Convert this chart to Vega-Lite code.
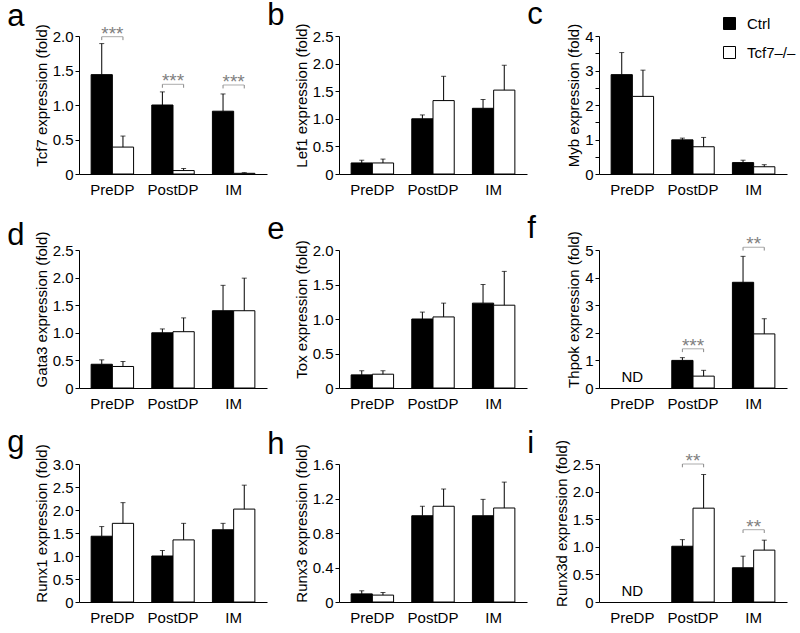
{
"$schema": "https://vega.github.io/schema/vega-lite/v6.json",
"padding": {"left": 7, "top": -1, "right": 0, "bottom": 0},
"datasets": {
"bars": [
{"p":"a","g":"PreDP","c":"Ctrl","m":1.44,"u":1.89},{"p":"a","g":"PreDP","c":"KO","m":0.39,"u":0.55},
{"p":"a","g":"PostDP","c":"Ctrl","m":1.0,"u":1.19},{"p":"a","g":"PostDP","c":"KO","m":0.05,"u":0.08},
{"p":"a","g":"IM","c":"Ctrl","m":0.91,"u":1.16},{"p":"a","g":"IM","c":"KO","m":0.01,"u":0.02},
{"p":"b","g":"PreDP","c":"Ctrl","m":0.2,"u":0.25},{"p":"b","g":"PreDP","c":"KO","m":0.2,"u":0.27},
{"p":"b","g":"PostDP","c":"Ctrl","m":1.0,"u":1.07},{"p":"b","g":"PostDP","c":"KO","m":1.33,"u":1.77},
{"p":"b","g":"IM","c":"Ctrl","m":1.19,"u":1.35},{"p":"b","g":"IM","c":"KO","m":1.52,"u":1.97},
{"p":"c","g":"PreDP","c":"Ctrl","m":2.88,"u":3.52},{"p":"c","g":"PreDP","c":"KO","m":2.25,"u":3.01},
{"p":"c","g":"PostDP","c":"Ctrl","m":0.99,"u":1.04},{"p":"c","g":"PostDP","c":"KO","m":0.79,"u":1.06},
{"p":"c","g":"IM","c":"Ctrl","m":0.33,"u":0.4},{"p":"c","g":"IM","c":"KO","m":0.21,"u":0.27},
{"p":"d","g":"PreDP","c":"Ctrl","m":0.43,"u":0.51},{"p":"d","g":"PreDP","c":"KO","m":0.39,"u":0.48},
{"p":"d","g":"PostDP","c":"Ctrl","m":1.0,"u":1.07},{"p":"d","g":"PostDP","c":"KO","m":1.02,"u":1.27},
{"p":"d","g":"IM","c":"Ctrl","m":1.4,"u":1.86},{"p":"d","g":"IM","c":"KO","m":1.4,"u":1.99},
{"p":"e","g":"PreDP","c":"Ctrl","m":0.19,"u":0.25},{"p":"e","g":"PreDP","c":"KO","m":0.2,"u":0.25},
{"p":"e","g":"PostDP","c":"Ctrl","m":1.0,"u":1.1},{"p":"e","g":"PostDP","c":"KO","m":1.03,"u":1.23},
{"p":"e","g":"IM","c":"Ctrl","m":1.23,"u":1.5},{"p":"e","g":"IM","c":"KO","m":1.2,"u":1.69},
{"p":"f","g":"PostDP","c":"Ctrl","m":1.0,"u":1.1},{"p":"f","g":"PostDP","c":"KO","m":0.43,"u":0.64},
{"p":"f","g":"IM","c":"Ctrl","m":3.83,"u":4.77},{"p":"f","g":"IM","c":"KO","m":1.96,"u":2.51},
{"p":"g","g":"PreDP","c":"Ctrl","m":1.43,"u":1.64},{"p":"g","g":"PreDP","c":"KO","m":1.71,"u":2.16},
{"p":"g","g":"PostDP","c":"Ctrl","m":1.0,"u":1.12},{"p":"g","g":"PostDP","c":"KO","m":1.35,"u":1.71},
{"p":"g","g":"IM","c":"Ctrl","m":1.57,"u":1.71},{"p":"g","g":"IM","c":"KO","m":2.02,"u":2.54},
{"p":"h","g":"PreDP","c":"Ctrl","m":0.094,"u":0.13},{"p":"h","g":"PreDP","c":"KO","m":0.08,"u":0.11},
{"p":"h","g":"PostDP","c":"Ctrl","m":1.0,"u":1.11},{"p":"h","g":"PostDP","c":"KO","m":1.11,"u":1.31},
{"p":"h","g":"IM","c":"Ctrl","m":1.0,"u":1.19},{"p":"h","g":"IM","c":"KO","m":1.09,"u":1.39},
{"p":"i","g":"PostDP","c":"Ctrl","m":1.01,"u":1.13},{"p":"i","g":"PostDP","c":"KO","m":1.7,"u":2.31},
{"p":"i","g":"IM","c":"Ctrl","m":0.62,"u":0.83},{"p":"i","g":"IM","c":"KO","m":0.94,"u":1.12}
],
"sig": [
{"p":"a","g":"PreDP","level":1.99,"stars":"***"},
{"p":"a","g":"PostDP","level":1.3,"stars":"***"},
{"p":"a","g":"IM","level":1.29,"stars":"***"},
{"p":"f","g":"PostDP","level":1.42,"stars":"***"},
{"p":"f","g":"IM","level":5.1,"stars":"**"},
{"p":"i","g":"PostDP","level":2.5,"stars":"**"},
{"p":"i","g":"IM","level":1.31,"stars":"**"}
],
"nd": [
{"p":"f","g":"PreDP","label":"ND"},
{"p":"i","g":"PreDP","label":"ND"}
],
"letters": [
{"p":"a","t":"a"},{"p":"b","t":"b"},{"p":"c","t":"c"},
{"p":"d","t":"d"},{"p":"e","t":"e"},{"p":"f","t":"f"},
{"p":"g","t":"g"},{"p":"h","t":"h"},{"p":"i","t":"i"}
]
},
"config": {
"font": "Liberation Sans",
"view": {"stroke": null},
"axis": {"grid": false, "domainColor": "black", "tickColor": "black", "labelColor": "black", "titleColor": "black", "labelFontSize": 15, "titleFontSize": 15, "titleFontWeight": "normal", "domainWidth": 1, "tickWidth": 1, "labelOverlap": false},
"axisX": {"ticks": false, "labelPadding": 8, "labelAngle": 0, "title": null},
"axisY": {"tickSize": 4, "labelPadding": 2, "titlePadding": 3, "titleY": 59},
"text": {"font": "Liberation Sans"},
"tick": {"thickness": 1},
"bar": {"stroke": "black", "strokeWidth": 1}
},
"resolve": {"scale": {"color": "independent"}, "legend": {"color": "independent"}},
"bounds": "flush",
"columns": 3,
"spacing": {"row": 76, "column": 72},
"concat": [
{
"width": 188, "height": 138,
"encoding": {
"x": {"field": "g", "type": "nominal", "scale": {"domain": ["PreDP","PostDP","IM"], "paddingInner": 0.3, "paddingOuter": 0.2}},
"xOffset": {"field": "c", "type": "nominal", "scale": {"domain": ["Ctrl","KO"], "paddingInner": 0, "paddingOuter": 0}}
},
"layer": [
{"data": {"name": "bars"}, "transform": [{"filter": "datum.p == 'a'"}], "mark": {"type": "bar"},
"encoding": {"y": {"field": "m", "type": "quantitative", "scale": {"domain": [0, 2], "nice": false}, "axis": {"title": "Tcf7 expression (fold)", "tickCount": 20, "values": [0, 0.5, 1, 1.5, 2], "labelExpr": "datum.value == 0 ? '0' : format(datum.value, '.1f')"}},
"color": {"field": "c", "type": "nominal", "scale": {"domain": ["Ctrl","KO"], "range": ["black","white"]}, "legend": null}}},
{"data": {"name": "bars"}, "transform": [{"filter": "datum.p == 'a'"}], "mark": {"type": "rule", "color": "black"},
"encoding": {"y": {"field": "m", "type": "quantitative"}, "y2": {"field": "u"}}},
{"data": {"name": "bars"}, "transform": [{"filter": "datum.p == 'a'"}], "mark": {"type": "tick", "color": "black", "size": 5},
"encoding": {"y": {"field": "u", "type": "quantitative"}}},
{"data": {"name": "sig"}, "transform": [{"filter": "datum.p == 'a'"}], "mark": {"type": "tick", "color": "#888888", "size": 21},
"encoding": {"xOffset": null, "y": {"field": "level", "type": "quantitative"}}},
{"data": {"name": "sig"}, "transform": [{"filter": "datum.p == 'a'"}, {"calculate": "['Ctrl','KO']", "as": "c"}, {"flatten": ["c"]}, {"calculate": "datum.level - 0.05", "as": "lo"}], "mark": {"type": "rule", "color": "#888888"},
"encoding": {"y": {"field": "level", "type": "quantitative"}, "y2": {"field": "lo"}}},
{"data": {"name": "sig"}, "transform": [{"filter": "datum.p == 'a'"}], "mark": {"type": "text", "color": "#808080", "fontSize": 19, "baseline": "alphabetic", "dy": 3},
"encoding": {"xOffset": null, "y": {"field": "level", "type": "quantitative"}, "text": {"field": "stars"}}},
{"data": {"name": "letters"}, "transform": [{"filter": "datum.p == 'a'"}], "mark": {"type": "text", "color": "black", "fontSize": 31, "align": "left", "baseline": "alphabetic", "dx": -105, "dy": -10},
"encoding": {"xOffset": null, "x": {"datum": "PreDP"}, "y": {"datum": 2}, "text": {"field": "t"}}}
]
},
{
"width": 188, "height": 138,
"encoding": {
"x": {"field": "g", "type": "nominal", "scale": {"domain": ["PreDP","PostDP","IM"], "paddingInner": 0.3, "paddingOuter": 0.2}},
"xOffset": {"field": "c", "type": "nominal", "scale": {"domain": ["Ctrl","KO"], "paddingInner": 0, "paddingOuter": 0}}
},
"layer": [
{"data": {"name": "bars"}, "transform": [{"filter": "datum.p == 'b'"}], "mark": {"type": "bar"},
"encoding": {"y": {"field": "m", "type": "quantitative", "scale": {"domain": [0, 2.5], "nice": false}, "axis": {"title": "Lef1 expression (fold)", "tickCount": 20, "values": [0, 0.5, 1, 1.5, 2, 2.5], "labelExpr": "datum.value == 0 ? '0' : format(datum.value, '.1f')"}},
"color": {"field": "c", "type": "nominal", "scale": {"domain": ["Ctrl","KO"], "range": ["black","white"]}, "legend": null}}},
{"data": {"name": "bars"}, "transform": [{"filter": "datum.p == 'b'"}], "mark": {"type": "rule", "color": "black"},
"encoding": {"y": {"field": "m", "type": "quantitative"}, "y2": {"field": "u"}}},
{"data": {"name": "bars"}, "transform": [{"filter": "datum.p == 'b'"}], "mark": {"type": "tick", "color": "black", "size": 5},
"encoding": {"y": {"field": "u", "type": "quantitative"}}},
{"data": {"name": "letters"}, "transform": [{"filter": "datum.p == 'b'"}], "mark": {"type": "text", "color": "black", "fontSize": 31, "align": "left", "baseline": "alphabetic", "dx": -105, "dy": -11},
"encoding": {"xOffset": null, "x": {"datum": "PreDP"}, "y": {"datum": 2.5}, "text": {"field": "t"}}}
]
},
{
"width": 188, "height": 138,
"encoding": {
"x": {"field": "g", "type": "nominal", "scale": {"domain": ["PreDP","PostDP","IM"], "paddingInner": 0.3, "paddingOuter": 0.2}},
"xOffset": {"field": "c", "type": "nominal", "scale": {"domain": ["Ctrl","KO"], "paddingInner": 0, "paddingOuter": 0}}
},
"layer": [
{"data": {"name": "bars"}, "transform": [{"filter": "datum.p == 'c'"}], "mark": {"type": "bar"},
"encoding": {"y": {"field": "m", "type": "quantitative", "scale": {"domain": [0, 4], "nice": false}, "axis": {"title": "Myb expression (fold)", "tickCount": 20, "values": [0, 0.5, 1, 1.5, 2, 2.5, 3, 3.5, 4], "labelExpr": "datum.value % 1 == 0 ? format(datum.value, 'd') : ''"}},
"color": {"field": "c", "type": "nominal", "scale": {"domain": ["Ctrl","KO"], "range": ["black","white"]},
"legend": {"orient": "none", "legendX": 123, "legendY": -20, "title": null, "symbolType": "square", "symbolSize": 144, "symbolStrokeColor": "black", "symbolStrokeWidth": 1, "labelFontSize": 15, "labelOffset": 10, "rowPadding": 12, "labelColor": "black", "labelExpr": "datum.value == 'KO' ? 'Tcf7–/–' : 'Ctrl'"}}}},
{"data": {"name": "bars"}, "transform": [{"filter": "datum.p == 'c'"}], "mark": {"type": "rule", "color": "black"},
"encoding": {"y": {"field": "m", "type": "quantitative"}, "y2": {"field": "u"}}},
{"data": {"name": "bars"}, "transform": [{"filter": "datum.p == 'c'"}], "mark": {"type": "tick", "color": "black", "size": 5},
"encoding": {"y": {"field": "u", "type": "quantitative"}}},
{"data": {"name": "letters"}, "transform": [{"filter": "datum.p == 'c'"}], "mark": {"type": "text", "color": "black", "fontSize": 31, "align": "left", "baseline": "alphabetic", "dx": -105, "dy": -12},
"encoding": {"xOffset": null, "x": {"datum": "PreDP"}, "y": {"datum": 4}, "text": {"field": "t"}}}
]
},
{
"width": 188, "height": 138,
"encoding": {
"x": {"field": "g", "type": "nominal", "scale": {"domain": ["PreDP","PostDP","IM"], "paddingInner": 0.3, "paddingOuter": 0.2}},
"xOffset": {"field": "c", "type": "nominal", "scale": {"domain": ["Ctrl","KO"], "paddingInner": 0, "paddingOuter": 0}}
},
"layer": [
{"data": {"name": "bars"}, "transform": [{"filter": "datum.p == 'd'"}], "mark": {"type": "bar"},
"encoding": {"y": {"field": "m", "type": "quantitative", "scale": {"domain": [0, 2.5], "nice": false}, "axis": {"title": "Gata3 expression (fold)", "tickCount": 20, "values": [0, 0.5, 1, 1.5, 2, 2.5], "labelExpr": "datum.value == 0 ? '0' : format(datum.value, '.1f')"}},
"color": {"field": "c", "type": "nominal", "scale": {"domain": ["Ctrl","KO"], "range": ["black","white"]}, "legend": null}}},
{"data": {"name": "bars"}, "transform": [{"filter": "datum.p == 'd'"}], "mark": {"type": "rule", "color": "black"},
"encoding": {"y": {"field": "m", "type": "quantitative"}, "y2": {"field": "u"}}},
{"data": {"name": "bars"}, "transform": [{"filter": "datum.p == 'd'"}], "mark": {"type": "tick", "color": "black", "size": 5},
"encoding": {"y": {"field": "u", "type": "quantitative"}}},
{"data": {"name": "letters"}, "transform": [{"filter": "datum.p == 'd'"}], "mark": {"type": "text", "color": "black", "fontSize": 31, "align": "left", "baseline": "alphabetic", "dx": -105, "dy": -5},
"encoding": {"xOffset": null, "x": {"datum": "PreDP"}, "y": {"datum": 2.5}, "text": {"field": "t"}}}
]
},
{
"width": 188, "height": 138,
"encoding": {
"x": {"field": "g", "type": "nominal", "scale": {"domain": ["PreDP","PostDP","IM"], "paddingInner": 0.3, "paddingOuter": 0.2}},
"xOffset": {"field": "c", "type": "nominal", "scale": {"domain": ["Ctrl","KO"], "paddingInner": 0, "paddingOuter": 0}}
},
"layer": [
{"data": {"name": "bars"}, "transform": [{"filter": "datum.p == 'e'"}], "mark": {"type": "bar"},
"encoding": {"y": {"field": "m", "type": "quantitative", "scale": {"domain": [0, 2], "nice": false}, "axis": {"title": "Tox expression (fold)", "tickCount": 20, "values": [0, 0.5, 1, 1.5, 2], "labelExpr": "datum.value == 0 ? '0' : format(datum.value, '.1f')"}},
"color": {"field": "c", "type": "nominal", "scale": {"domain": ["Ctrl","KO"], "range": ["black","white"]}, "legend": null}}},
{"data": {"name": "bars"}, "transform": [{"filter": "datum.p == 'e'"}], "mark": {"type": "rule", "color": "black"},
"encoding": {"y": {"field": "m", "type": "quantitative"}, "y2": {"field": "u"}}},
{"data": {"name": "bars"}, "transform": [{"filter": "datum.p == 'e'"}], "mark": {"type": "tick", "color": "black", "size": 5},
"encoding": {"y": {"field": "u", "type": "quantitative"}}},
{"data": {"name": "letters"}, "transform": [{"filter": "datum.p == 'e'"}], "mark": {"type": "text", "color": "black", "fontSize": 31, "align": "left", "baseline": "alphabetic", "dx": -105, "dy": -11},
"encoding": {"xOffset": null, "x": {"datum": "PreDP"}, "y": {"datum": 2}, "text": {"field": "t"}}}
]
},
{
"width": 188, "height": 138,
"encoding": {
"x": {"field": "g", "type": "nominal", "scale": {"domain": ["PreDP","PostDP","IM"], "paddingInner": 0.3, "paddingOuter": 0.2}},
"xOffset": {"field": "c", "type": "nominal", "scale": {"domain": ["Ctrl","KO"], "paddingInner": 0, "paddingOuter": 0}}
},
"layer": [
{"data": {"name": "bars"}, "transform": [{"filter": "datum.p == 'f'"}], "mark": {"type": "bar"},
"encoding": {"y": {"field": "m", "type": "quantitative", "scale": {"domain": [0, 5], "nice": false}, "axis": {"title": "Thpok expression (fold)", "tickCount": 20, "values": [0, 1, 2, 3, 4, 5], "format": "d"}},
"color": {"field": "c", "type": "nominal", "scale": {"domain": ["Ctrl","KO"], "range": ["black","white"]}, "legend": null}}},
{"data": {"name": "bars"}, "transform": [{"filter": "datum.p == 'f'"}], "mark": {"type": "rule", "color": "black"},
"encoding": {"y": {"field": "m", "type": "quantitative"}, "y2": {"field": "u"}}},
{"data": {"name": "bars"}, "transform": [{"filter": "datum.p == 'f'"}], "mark": {"type": "tick", "color": "black", "size": 5},
"encoding": {"y": {"field": "u", "type": "quantitative"}}},
{"data": {"name": "sig"}, "transform": [{"filter": "datum.p == 'f'"}], "mark": {"type": "tick", "color": "#888888", "size": 21},
"encoding": {"xOffset": null, "y": {"field": "level", "type": "quantitative"}}},
{"data": {"name": "sig"}, "transform": [{"filter": "datum.p == 'f'"}, {"calculate": "['Ctrl','KO']", "as": "c"}, {"flatten": ["c"]}, {"calculate": "datum.level - 0.12", "as": "lo"}], "mark": {"type": "rule", "color": "#888888"},
"encoding": {"y": {"field": "level", "type": "quantitative"}, "y2": {"field": "lo"}}},
{"data": {"name": "sig"}, "transform": [{"filter": "datum.p == 'f'"}], "mark": {"type": "text", "color": "#808080", "fontSize": 19, "baseline": "alphabetic", "dy": 3},
"encoding": {"xOffset": null, "y": {"field": "level", "type": "quantitative"}, "text": {"field": "stars"}}},
{"data": {"name": "nd"}, "transform": [{"filter": "datum.p == 'f'"}], "mark": {"type": "text", "color": "black", "fontSize": 15, "baseline": "middle", "dy": -11},
"encoding": {"xOffset": null, "y": {"datum": 0}, "text": {"field": "label"}}},
{"data": {"name": "letters"}, "transform": [{"filter": "datum.p == 'f'"}], "mark": {"type": "text", "color": "black", "fontSize": 31, "align": "left", "baseline": "alphabetic", "dx": -105, "dy": -12},
"encoding": {"xOffset": null, "x": {"datum": "PreDP"}, "y": {"datum": 5}, "text": {"field": "t"}}}
]
},
{
"width": 188, "height": 138,
"encoding": {
"x": {"field": "g", "type": "nominal", "scale": {"domain": ["PreDP","PostDP","IM"], "paddingInner": 0.3, "paddingOuter": 0.2}},
"xOffset": {"field": "c", "type": "nominal", "scale": {"domain": ["Ctrl","KO"], "paddingInner": 0, "paddingOuter": 0}}
},
"layer": [
{"data": {"name": "bars"}, "transform": [{"filter": "datum.p == 'g'"}], "mark": {"type": "bar"},
"encoding": {"y": {"field": "m", "type": "quantitative", "scale": {"domain": [0, 3], "nice": false}, "axis": {"title": "Runx1 expression (fold)", "tickCount": 20, "values": [0, 0.5, 1, 1.5, 2, 2.5, 3], "labelExpr": "datum.value == 0 ? '0' : format(datum.value, '.1f')"}},
"color": {"field": "c", "type": "nominal", "scale": {"domain": ["Ctrl","KO"], "range": ["black","white"]}, "legend": null}}},
{"data": {"name": "bars"}, "transform": [{"filter": "datum.p == 'g'"}], "mark": {"type": "rule", "color": "black"},
"encoding": {"y": {"field": "m", "type": "quantitative"}, "y2": {"field": "u"}}},
{"data": {"name": "bars"}, "transform": [{"filter": "datum.p == 'g'"}], "mark": {"type": "tick", "color": "black", "size": 5},
"encoding": {"y": {"field": "u", "type": "quantitative"}}},
{"data": {"name": "letters"}, "transform": [{"filter": "datum.p == 'g'"}], "mark": {"type": "text", "color": "black", "fontSize": 31, "align": "left", "baseline": "alphabetic", "dx": -105, "dy": -12},
"encoding": {"xOffset": null, "x": {"datum": "PreDP"}, "y": {"datum": 3}, "text": {"field": "t"}}}
]
},
{
"width": 188, "height": 138,
"encoding": {
"x": {"field": "g", "type": "nominal", "scale": {"domain": ["PreDP","PostDP","IM"], "paddingInner": 0.3, "paddingOuter": 0.2}},
"xOffset": {"field": "c", "type": "nominal", "scale": {"domain": ["Ctrl","KO"], "paddingInner": 0, "paddingOuter": 0}}
},
"layer": [
{"data": {"name": "bars"}, "transform": [{"filter": "datum.p == 'h'"}], "mark": {"type": "bar"},
"encoding": {"y": {"field": "m", "type": "quantitative", "scale": {"domain": [0, 1.6], "nice": false}, "axis": {"title": "Runx3 expression (fold)", "tickCount": 20, "values": [0, 0.4, 0.8, 1.2, 1.6], "labelExpr": "datum.value == 0 ? '0' : format(datum.value, '.1f')"}},
"color": {"field": "c", "type": "nominal", "scale": {"domain": ["Ctrl","KO"], "range": ["black","white"]}, "legend": null}}},
{"data": {"name": "bars"}, "transform": [{"filter": "datum.p == 'h'"}], "mark": {"type": "rule", "color": "black"},
"encoding": {"y": {"field": "m", "type": "quantitative"}, "y2": {"field": "u"}}},
{"data": {"name": "bars"}, "transform": [{"filter": "datum.p == 'h'"}], "mark": {"type": "tick", "color": "black", "size": 5},
"encoding": {"y": {"field": "u", "type": "quantitative"}}},
{"data": {"name": "letters"}, "transform": [{"filter": "datum.p == 'h'"}], "mark": {"type": "text", "color": "black", "fontSize": 31, "align": "left", "baseline": "alphabetic", "dx": -105, "dy": -10},
"encoding": {"xOffset": null, "x": {"datum": "PreDP"}, "y": {"datum": 1.6}, "text": {"field": "t"}}}
]
},
{
"width": 188, "height": 138,
"encoding": {
"x": {"field": "g", "type": "nominal", "scale": {"domain": ["PreDP","PostDP","IM"], "paddingInner": 0.3, "paddingOuter": 0.2}},
"xOffset": {"field": "c", "type": "nominal", "scale": {"domain": ["Ctrl","KO"], "paddingInner": 0, "paddingOuter": 0}}
},
"layer": [
{"data": {"name": "bars"}, "transform": [{"filter": "datum.p == 'i'"}], "mark": {"type": "bar"},
"encoding": {"y": {"field": "m", "type": "quantitative", "scale": {"domain": [0, 2.5], "nice": false}, "axis": {"title": "Runx3d expression (fold)", "tickCount": 20, "values": [0, 0.5, 1, 1.5, 2, 2.5], "labelExpr": "datum.value == 0 ? '0' : format(datum.value, '.1f')"}},
"color": {"field": "c", "type": "nominal", "scale": {"domain": ["Ctrl","KO"], "range": ["black","white"]}, "legend": null}}},
{"data": {"name": "bars"}, "transform": [{"filter": "datum.p == 'i'"}], "mark": {"type": "rule", "color": "black"},
"encoding": {"y": {"field": "m", "type": "quantitative"}, "y2": {"field": "u"}}},
{"data": {"name": "bars"}, "transform": [{"filter": "datum.p == 'i'"}], "mark": {"type": "tick", "color": "black", "size": 5},
"encoding": {"y": {"field": "u", "type": "quantitative"}}},
{"data": {"name": "sig"}, "transform": [{"filter": "datum.p == 'i'"}], "mark": {"type": "tick", "color": "#888888", "size": 21},
"encoding": {"xOffset": null, "y": {"field": "level", "type": "quantitative"}}},
{"data": {"name": "sig"}, "transform": [{"filter": "datum.p == 'i'"}, {"calculate": "['Ctrl','KO']", "as": "c"}, {"flatten": ["c"]}, {"calculate": "datum.level - 0.06", "as": "lo"}], "mark": {"type": "rule", "color": "#888888"},
"encoding": {"y": {"field": "level", "type": "quantitative"}, "y2": {"field": "lo"}}},
{"data": {"name": "sig"}, "transform": [{"filter": "datum.p == 'i'"}], "mark": {"type": "text", "color": "#808080", "fontSize": 19, "baseline": "alphabetic", "dy": 3},
"encoding": {"xOffset": null, "y": {"field": "level", "type": "quantitative"}, "text": {"field": "stars"}}},
{"data": {"name": "nd"}, "transform": [{"filter": "datum.p == 'i'"}], "mark": {"type": "text", "color": "black", "fontSize": 15, "baseline": "middle", "dy": -11},
"encoding": {"xOffset": null, "y": {"datum": 0}, "text": {"field": "label"}}},
{"data": {"name": "letters"}, "transform": [{"filter": "datum.p == 'i'"}], "mark": {"type": "text", "color": "black", "fontSize": 31, "align": "left", "baseline": "alphabetic", "dx": -105, "dy": -11},
"encoding": {"xOffset": null, "x": {"datum": "PreDP"}, "y": {"datum": 2.5}, "text": {"field": "t"}}}
]
}
]
}
